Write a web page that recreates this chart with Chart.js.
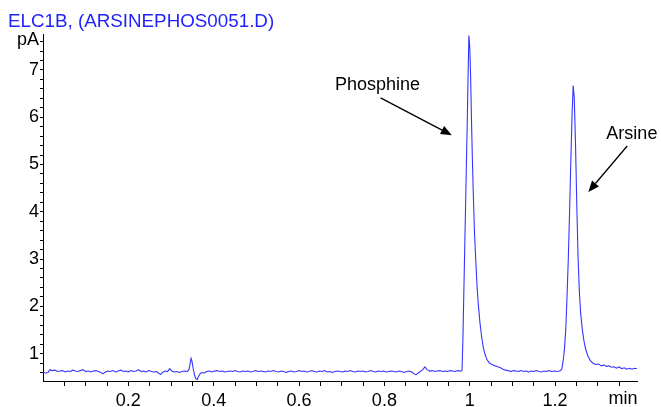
<!DOCTYPE html>
<html>
<head>
<meta charset="utf-8">
<script src="https://cdn.jsdelivr.net/npm/chart.js@4.4.1/dist/chart.umd.min.js"></script>
<style>
  html, body { margin: 0; padding: 0; background: #fff; }
  #wrap { position: relative; width: 661px; height: 407px; }
</style>
</head>
<body>
<div id="wrap"><canvas id="chart" width="661" height="407"></canvas></div>
<script>
// chromatogram pieces, time in min / signal in pA
const baseTimes = [0.000, 0.006, 0.012, 0.016, 0.022, 0.028, 0.034, 0.040, 0.046, 0.052, 0.058, 0.064, 0.070, 0.076, 0.082, 0.088, 0.094, 0.100, 0.106, 0.112, 0.118, 0.124, 0.130, 0.136, 0.140, 0.146, 0.152, 0.158, 0.164, 0.170, 0.176, 0.182, 0.188, 0.194, 0.200, 0.206, 0.212, 0.218, 0.224, 0.230, 0.236, 0.242, 0.248, 0.254, 0.260, 0.266, 0.272, 0.276, 0.280, 0.286, 0.292, 0.297, 0.302, 0.308, 0.314, 0.320, 0.326, 0.332, 0.338, 0.342, 0.345, 0.347, 0.349, 0.352, 0.355, 0.358, 0.361, 0.364, 0.368, 0.372, 0.378, 0.384, 0.390, 0.396, 0.402, 0.408, 0.414, 0.420, 0.426, 0.432, 0.438, 0.444, 0.450, 0.456, 0.462, 0.468, 0.474, 0.480, 0.486, 0.492, 0.498, 0.504, 0.510, 0.516, 0.522, 0.528, 0.534, 0.540, 0.546, 0.552, 0.558, 0.564, 0.570, 0.576, 0.582, 0.588, 0.594, 0.600, 0.606, 0.612, 0.618, 0.624, 0.630, 0.636, 0.642, 0.648, 0.654, 0.660, 0.666, 0.672, 0.678, 0.684, 0.690, 0.696, 0.702, 0.708, 0.714, 0.720, 0.726, 0.732, 0.738, 0.744, 0.750, 0.756, 0.762, 0.768, 0.774, 0.780, 0.786, 0.792, 0.798, 0.804, 0.810, 0.816, 0.822, 0.828, 0.834, 0.840, 0.846, 0.852, 0.858, 0.864, 0.870, 0.874, 0.878, 0.884, 0.890, 0.895, 0.900, 0.906, 0.912, 0.918, 0.924, 0.930, 0.936, 0.942, 0.948, 0.954, 0.960, 0.966, 0.972, 0.978];
const baseSignal = [0.60, 0.59, 0.60, 0.66, 0.64, 0.65, 0.62, 0.63, 0.64, 0.61, 0.63, 0.62, 0.65, 0.63, 0.62, 0.64, 0.66, 0.62, 0.63, 0.61, 0.63, 0.64, 0.62, 0.60, 0.57, 0.61, 0.63, 0.62, 0.64, 0.61, 0.63, 0.65, 0.62, 0.63, 0.61, 0.64, 0.62, 0.63, 0.66, 0.62, 0.63, 0.61, 0.64, 0.62, 0.61, 0.62, 0.58, 0.56, 0.60, 0.63, 0.62, 0.68, 0.63, 0.61, 0.62, 0.60, 0.62, 0.63, 0.62, 0.66, 0.80, 0.90, 0.84, 0.68, 0.55, 0.47, 0.45, 0.51, 0.57, 0.60, 0.59, 0.62, 0.63, 0.61, 0.63, 0.64, 0.62, 0.63, 0.61, 0.62, 0.63, 0.62, 0.64, 0.62, 0.61, 0.63, 0.62, 0.63, 0.61, 0.62, 0.64, 0.62, 0.63, 0.62, 0.61, 0.63, 0.62, 0.64, 0.62, 0.61, 0.63, 0.62, 0.60, 0.62, 0.63, 0.61, 0.62, 0.64, 0.62, 0.63, 0.61, 0.62, 0.64, 0.62, 0.61, 0.63, 0.62, 0.64, 0.61, 0.62, 0.60, 0.62, 0.63, 0.62, 0.61, 0.63, 0.62, 0.64, 0.62, 0.61, 0.63, 0.62, 0.63, 0.61, 0.62, 0.64, 0.62, 0.61, 0.63, 0.62, 0.63, 0.61, 0.62, 0.63, 0.62, 0.61, 0.63, 0.62, 0.60, 0.62, 0.63, 0.61, 0.57, 0.55, 0.58, 0.62, 0.66, 0.72, 0.66, 0.63, 0.64, 0.62, 0.63, 0.64, 0.62, 0.63, 0.62, 0.64, 0.63, 0.62, 0.64, 0.63];

const phosphineTimes = [0.981, 0.982, 0.984, 0.986, 0.988, 0.990, 0.992, 0.994, 0.996, 0.998, 1.000, 1.002, 1.004, 1.006, 1.008, 1.011, 1.014, 1.017, 1.020, 1.024, 1.028, 1.032, 1.036, 1.040, 1.046, 1.052];
const phosphineSignal = [0.63, 0.66, 1.30, 2.20, 3.10, 4.00, 4.90, 5.80, 6.80, 7.73, 7.50, 6.90, 6.00, 5.20, 4.50, 3.60, 3.00, 2.45, 2.05, 1.65, 1.35, 1.12, 0.98, 0.88, 0.80, 0.77];

const midTimes = [1.060, 1.066, 1.072, 1.078, 1.084, 1.090, 1.096, 1.102, 1.108, 1.114, 1.120, 1.126, 1.132, 1.138, 1.144, 1.150, 1.156, 1.162, 1.168, 1.174, 1.180, 1.186, 1.192, 1.198, 1.204, 1.210];
const midSignal = [0.74, 0.72, 0.70, 0.67, 0.65, 0.64, 0.62, 0.64, 0.63, 0.62, 0.64, 0.62, 0.63, 0.61, 0.63, 0.62, 0.64, 0.62, 0.61, 0.63, 0.62, 0.64, 0.62, 0.63, 0.62, 0.63];

const arsineTimes = [1.213, 1.216, 1.219, 1.222, 1.225, 1.228, 1.231, 1.234, 1.237, 1.240, 1.2425, 1.245, 1.248, 1.251, 1.254, 1.257, 1.260, 1.264, 1.268, 1.272, 1.277, 1.282, 1.288];
const arsineSignal = [0.64, 0.68, 0.85, 1.10, 1.50, 2.20, 3.00, 4.00, 5.10, 6.10, 6.67, 6.40, 5.40, 4.10, 3.00, 2.30, 1.85, 1.50, 1.25, 1.08, 0.95, 0.86, 0.80];

const tailTimes = [1.295, 1.302, 1.308, 1.314, 1.320, 1.326, 1.332, 1.338, 1.344, 1.350, 1.356, 1.362, 1.368, 1.374, 1.380, 1.386, 1.392];
const tailSignal = [0.77, 0.78, 0.74, 0.76, 0.73, 0.74, 0.71, 0.72, 0.69, 0.72, 0.68, 0.70, 0.67, 0.69, 0.67, 0.69, 0.68];

// axis ticks
const xMajorTicks = [0.2, 0.4, 0.6, 0.8, 1, 1.2];
const xMinorTicks = [0.05, 0.1, 0.15, 0.2, 0.25, 0.3, 0.35, 0.4, 0.45, 0.5, 0.55, 0.6, 0.65, 0.7, 0.75, 0.8, 0.85, 0.9, 0.95, 1, 1.05, 1.1, 1.15, 1.2, 1.25, 1.3, 1.35];
const yMajorTicks = [1, 2, 3, 4, 5, 6, 7];
const yMinorTicks = [0.6, 0.8, 1, 1.2, 1.4, 1.6, 1.8, 2, 2.2, 2.4, 2.6, 2.8, 3, 3.2, 3.4, 3.6, 3.8, 4, 4.2, 4.4, 4.6, 4.8, 5, 5.2, 5.4, 5.6, 5.8, 6, 6.2, 6.4, 6.6, 6.8, 7, 7.2, 7.4, 7.6];

// peak labels: [text, textX, textY, arrowFromX, arrowFromY, arrowToX, arrowToY] in data units
const peakLabels = [
  ['Phosphine', 0.784, 6.68, 0.791, 6.41, 0.958, 5.62],
  ['Arsine', 1.380, 5.64, 1.369, 5.39, 1.278, 4.42]
];

const FONT = '"Liberation Sans", Arial, sans-serif';

const points = [];
[[baseTimes, baseSignal], [phosphineTimes, phosphineSignal], [midTimes, midSignal],
 [arsineTimes, arsineSignal], [tailTimes, tailSignal]].forEach(([t, s]) => {
  t.forEach((x, i) => points.push({ x: x, y: s[i] }));
});

const isMajor = (list, v) => list.some(m => Math.abs(m - v) < 1e-6);

// text + arrows that are not part of chart.js itself
const extras = {
  id: 'extras',
  afterDraw(chart) {
    const ctx = chart.ctx;
    const xs = chart.scales.x, ys = chart.scales.y;
    ctx.save();
    ctx.fillStyle = '#1f1fff';
    ctx.font = '18.8px ' + FONT;
    ctx.textAlign = 'left';
    ctx.textBaseline = 'alphabetic';
    ctx.fillText('ELC1B, (ARSINEPHOS0051.D)', 8, 26.5);

    ctx.fillStyle = '#000';
    ctx.font = '18px ' + FONT;
    ctx.fillText('pA', 17, 45);
    ctx.textAlign = 'center';
    ctx.textBaseline = 'middle';
    ctx.fillText('min', 623, 399);

    peakLabels.forEach(([txt, tx, ty, fx, fy, ax, ay]) => {
      ctx.fillStyle = '#000';
      ctx.textAlign = 'center';
      ctx.textBaseline = 'middle';
      ctx.fillText(txt, xs.getPixelForValue(tx), ys.getPixelForValue(ty));
      const x1 = xs.getPixelForValue(fx), y1 = ys.getPixelForValue(fy);
      const x2 = xs.getPixelForValue(ax), y2 = ys.getPixelForValue(ay);
      const ang = Math.atan2(y2 - y1, x2 - x1);
      const hl = 11, hw = 4.5;
      const bx = x2 - hl * Math.cos(ang), by = y2 - hl * Math.sin(ang);
      ctx.strokeStyle = '#000';
      ctx.lineWidth = 1.3;
      ctx.beginPath();
      ctx.moveTo(x1, y1);
      ctx.lineTo(bx, by);
      ctx.stroke();
      ctx.beginPath();
      ctx.moveTo(x2, y2);
      ctx.lineTo(bx + hw * Math.sin(ang), by - hw * Math.cos(ang));
      ctx.lineTo(bx - hw * Math.sin(ang), by + hw * Math.cos(ang));
      ctx.closePath();
      ctx.fill();
    });
    ctx.restore();
  }
};

new Chart(document.getElementById('chart'), {
  type: 'line',
  data: {
    datasets: [{
      data: points,
      borderColor: '#3535ff',
      borderWidth: 1.1,
      pointRadius: 0,
      // tiny tension so chart.js skips its per-pixel fast path (it squashes the steep peak flanks)
      tension: 0.0001,
      fill: false
    }]
  },
  options: {
    responsive: false,
    animation: false,
    events: [],
    layout: { padding: { top: 34, right: 24, left: 0, bottom: 0 } },
    plugins: { legend: { display: false }, tooltip: { enabled: false } },
    scales: {
      x: {
        type: 'linear',
        min: 0,
        max: 1.392,
        afterBuildTicks: s => { s.ticks = xMinorTicks.map(v => ({ value: v })); },
        afterFit: s => { s.height = 26; },
        ticks: {
          autoSkip: false,
          maxRotation: 0,
          padding: 4,
          color: '#000',
          font: { family: FONT, size: 18 },
          callback: v => isMajor(xMajorTicks, v) ? String(v) : ''
        },
        grid: { drawOnChartArea: false, drawTicks: true, tickLength: 5, tickColor: '#000', tickWidth: 1 },
        border: { display: true, color: '#000', width: 1 }
      },
      y: {
        type: 'linear',
        min: 0.42,
        max: 7.76,
        afterBuildTicks: s => { s.ticks = yMinorTicks.map(v => ({ value: v })); },
        afterFit: s => { s.width = 43; },
        ticks: {
          autoSkip: false,
          padding: 1,
          color: '#000',
          font: { family: FONT, size: 18 },
          callback: v => isMajor(yMajorTicks, v) ? String(Math.round(v)) : ''
        },
        grid: { drawOnChartArea: false, drawTicks: true, tickLength: 3, tickColor: '#000', tickWidth: 1 },
        border: { display: true, color: '#000', width: 1 }
      }
    }
  },
  plugins: [extras]
});
</script>
</body>
</html>
